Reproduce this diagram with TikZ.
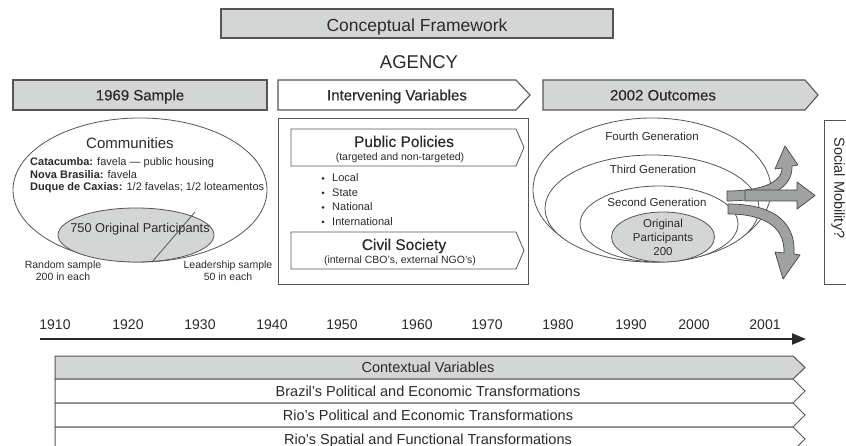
\documentclass[tikz,border=0pt]{standalone}
\usepackage{fontspec}
\setmainfont{Liberation Sans}
\newfontfamily\medfont[FakeBold=0.35]{Liberation Sans}
\usetikzlibrary{arrows.meta}
\definecolor{bord}{HTML}{555555}
\definecolor{gfill}{HTML}{D4D6D6}
\definecolor{txt}{HTML}{2A2A2A}
\definecolor{rib}{HTML}{A0A2A2}
\newcommand\fsz[1]{\fontsize{#1}{#1}\selectfont}
\newcommand\arrowbox[6]{%
  \pgfmathsetmacro\ymid{(#2+#4)/2}\pgfmathsetmacro\xtip{#3+#5}%
  \draw[#6] (#1,#2) -- (#3,#2) -- (\xtip,\ymid) -- (#3,#4) -- (#1,#4) -- cycle;}
\begin{document}
\begin{tikzpicture}[x=1pt,y=-1pt,
  every node/.style={text=txt, inner sep=0pt},
  lbl/.style={anchor=base},
  box/.style={draw=bord, line width=1.1pt},
  thinbox/.style={draw=bord, line width=0.8pt},
  rowbox/.style={draw=bord, line width=1pt},
  ribbon/.style={draw=bord!80!black, line width=0.7pt, fill=rib, line join=round}]
\useasboundingbox (0,0) rectangle (846,446);

% ---- title
\draw[box, fill=gfill] (221,9) rectangle (613,38);
\node[lbl] (cf) at (417,31.3) {\fsz{17.5}Conceptual Framework};
\node[lbl] (agency) at (419,68.7) {\fsz{18.5}AGENCY};

% ---- banners
\draw[box, fill=gfill] (13,80) rectangle (267,110);
\node[lbl] (s69) at (140,100.4) {\medfont\fsz{15}1969 Sample};
\arrowbox{278}{80}{516}{110}{14}{box, fill=white}
\node[lbl] (iv) at (397,100.4) {\medfont\fsz{15}Intervening Variables};
\arrowbox{543}{80}{805}{110}{13}{box, fill=gfill}
\node[lbl] (oc) at (663,100.4) {\medfont\fsz{15}2002 Outcomes};

% ---- 1969 sample
\draw[thinbox, fill=white] (140,190) ellipse [x radius=127, y radius=72];
\draw[thinbox, fill=gfill] (136,235) ellipse [x radius=78, y radius=27];
\coordinate (d1) at (195,212);
\coordinate (d2) at (152,262);
\draw[thinbox] (d1) -- (d2);
\node[lbl] (comm) at (130,148.4) {\fsz{15}Communities};
\node[anchor=base west] (cat) at (30,166) {\fsz{11}\textbf{Catacumba:} favela — public housing};
\node[anchor=base west] (nb) at (30,178.5) {\fsz{11}\textbf{Nova Brasilia:} favela};
\node[anchor=base west] (dq) at (30,191) {\fsz{11}\textbf{Duque de Caxias:} 1/2 favelas; 1/2 loteamentos};
\node[lbl] (orig750) at (140,232.6) {\fsz{12.8}750 Original Participants};
\node[lbl] (rs1) at (63,268.5) {\fsz{10.5}Random sample};
\node[lbl] (rs2) at (63,280.5) {\fsz{10.5}200 in each};
\node[lbl] (ls1) at (228,268.5) {\fsz{10.5}Leadership sample};
\node[lbl] (ls2) at (228,280.5) {\fsz{10.5}50 in each};

% ---- intervening variables
\draw[thinbox] (278,118) rectangle (528,284);
\arrowbox{291}{129}{516}{166}{8}{thinbox, fill=white}
\node[lbl] (pp) at (404,147) {\medfont\fsz{15.5}Public Policies};
\node[lbl] (ppsub) at (400,160.5) {\fsz{10.5}(targeted and non-targeted)};
\foreach \t/\yy [count=\i] in {Local/182, State/196.5, National/211, International/225.5}{
  \node[anchor=base west] (bl\i) at (332,\yy) {\fsz{11}\t};
  \fill[txt] (323,\yy-3.6) circle (1.5pt);
}
\arrowbox{291}{232}{516}{269}{8}{thinbox, fill=white}
\node[lbl] (cs) at (404,250) {\medfont\fsz{15.5}Civil Society};
\node[lbl] (cssub) at (400,263.5) {\fsz{10.5}(internal CBO's, external NGO's)};

% ---- outcomes
\draw[thinbox, fill=white] (652,190) ellipse [x radius=119, y radius=72];
\draw[thinbox, fill=white] (652,208.5) ellipse [x radius=107, y radius=53.5];
\draw[thinbox, fill=white] (659,224) ellipse [x radius=79, y radius=38];
\draw[thinbox, fill=gfill] (663,237) ellipse [x radius=51.5, y radius=25];
\node[lbl] (g4) at (652,141) {\fsz{11.5}Fourth Generation};
\node[lbl] (g3) at (653,174) {\fsz{11.5}Third Generation};
\node[lbl] (g2) at (657,207) {\fsz{11.5}Second Generation};
\node[lbl] (op1) at (663,228) {\fsz{11.5}Original};
\node[lbl] (op2) at (663,242) {\fsz{11.5}Participants};
\node[lbl] (op3) at (663,256) {\fsz{11.5}200};

% ribbons
\draw[ribbon] (727,191) .. controls (760,191) and (782,183) .. (782,168)
  -- (775,169) -- (785,146) -- (798,165) -- (792,166)
  .. controls (793,190) and (765,201) .. (727,201) -- cycle;
\draw[ribbon] (745,190) -- (797,190) -- (797,182) -- (815,195.5) -- (797,209) -- (797,201) -- (745,201) -- cycle;
\draw[ribbon] (728,204) .. controls (768,204) and (796,218) .. (794,254)
  -- (800,255) -- (783,279) -- (775,252) -- (784,253)
  .. controls (785,226) and (763,214) .. (728,214) -- cycle;

% social mobility
\draw[thinbox] (824,120) rectangle (870,284);
\node[rotate=-90] (sm) at (838,188) {\fsz{14.5}Social Mobility?};

% ---- timeline
\coordinate (t0) at (40,339);
\coordinate (t1) at (806,339);
\draw[line width=2.2pt, draw=txt, -{Triangle[length=14pt,width=11pt]}] (t0) -- (t1);
\foreach \yr/\xx in {1910/55,1920/128,1930/200,1940/272,1950/342,1960/417,1970/487,1980/558,1990/631,2000/694,2001/765}{
  \node[lbl] (y\yr) at (\xx,330) {\fsz{14}\yr};
}

% ---- contextual variables
\arrowbox{55}{356}{793}{379}{12}{rowbox, fill=gfill}
\arrowbox{55}{379}{793}{403}{12}{rowbox, fill=white}
\arrowbox{55}{403}{793}{427}{12}{rowbox, fill=white}
\arrowbox{55}{427}{793}{451}{12}{rowbox, fill=white}
\node[lbl] (cv) at (428,372.7) {\fsz{14.5}Contextual Variables};
\node[lbl] (cv1) at (428,396.2) {\fsz{14.5}Brazil's Political and Economic Transformations};
\node[lbl] (cv2) at (428,420.2) {\fsz{14.5}Rio's Political and Economic Transformations};
\node[lbl] (cv3) at (428,444.2) {\fsz{14.5}Rio's Spatial and Functional Transformations};
\end{tikzpicture}
\end{document}
